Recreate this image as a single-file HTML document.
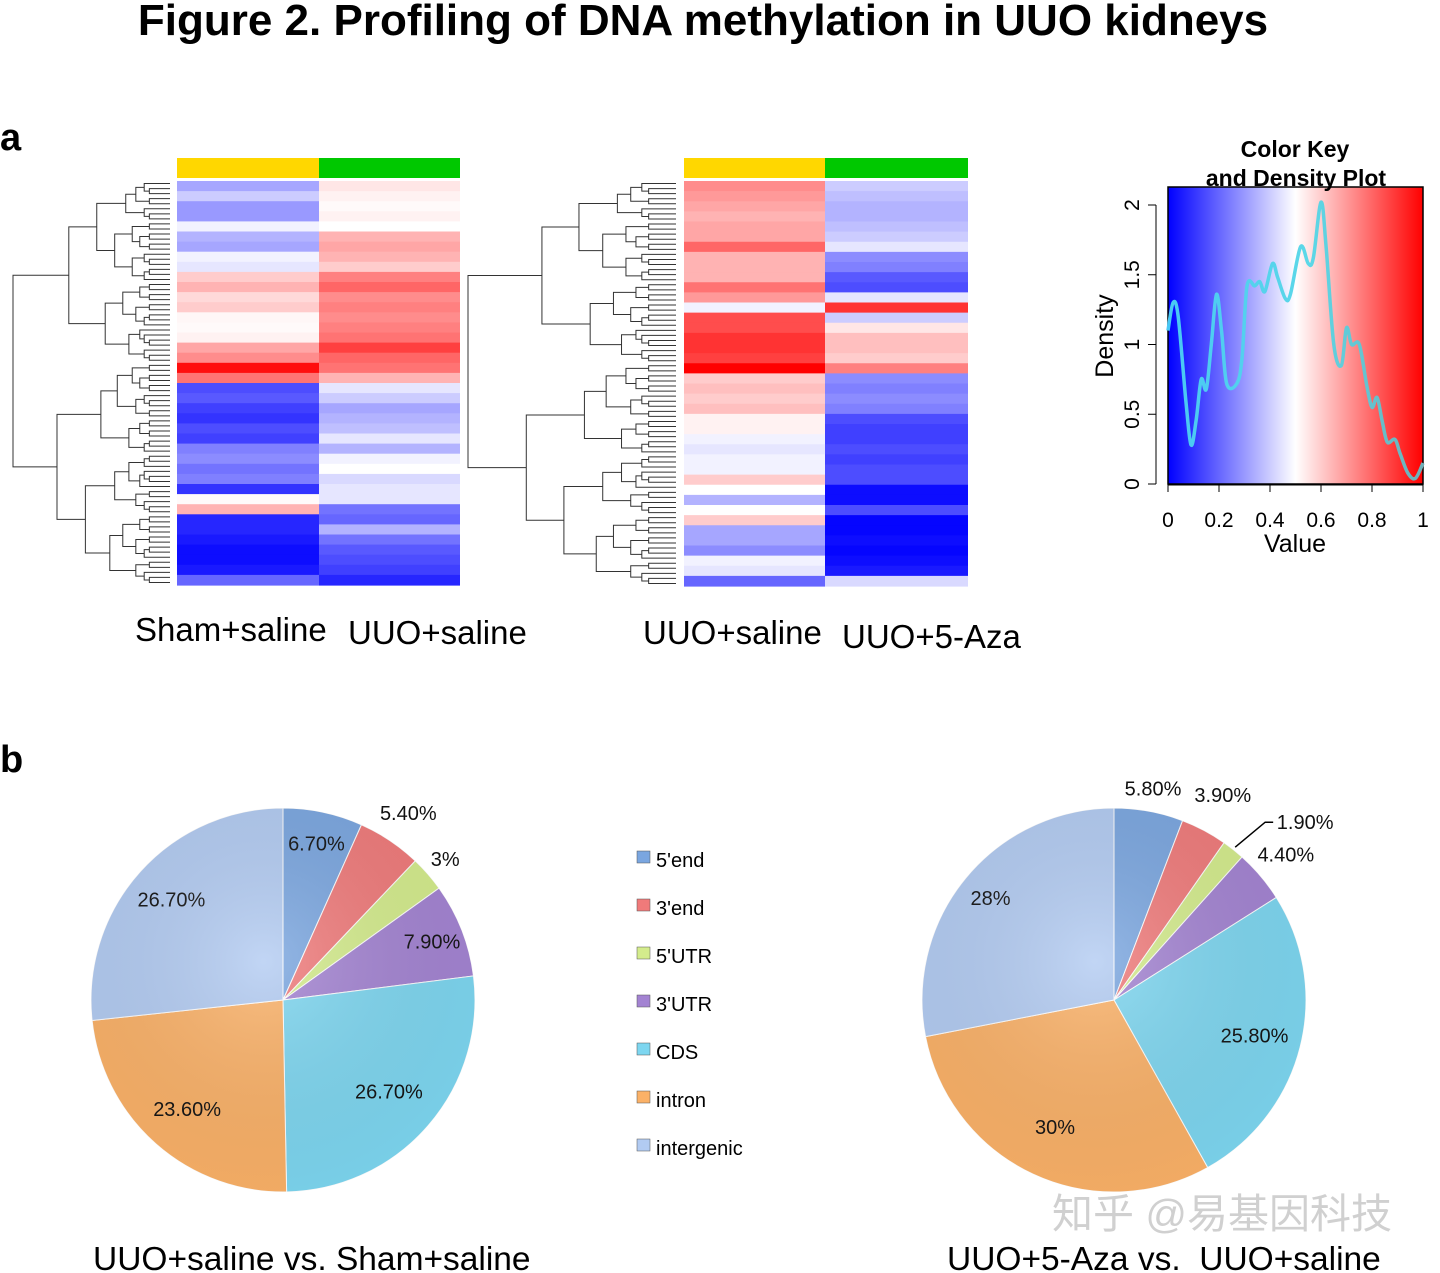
<!DOCTYPE html>
<html><head><meta charset="utf-8">
<style>
html,body{margin:0;padding:0;background:#fff;}
svg{display:block;}
text{font-family:"Liberation Sans","Noto Sans CJK SC",sans-serif;}
</style></head>
<body>
<svg id="fig" width="1440" height="1273" viewBox="0 0 1440 1273" xmlns="http://www.w3.org/2000/svg">
<defs>
  <linearGradient id="keyGrad" x1="0" x2="1" y1="0" y2="0">
    <stop offset="0" stop-color="#0000ff"/><stop offset="0.5" stop-color="#ffffff"/><stop offset="1" stop-color="#ff0000"/>
  </linearGradient>
  <linearGradient id="curveGrad" x1="0" x2="1" y1="0" y2="0">
    <stop offset="0" stop-color="#48c8f5"/><stop offset="0.55" stop-color="#5cd8e8"/><stop offset="1" stop-color="#6fb0b8"/>
  </linearGradient>
  <radialGradient id="shade" cx="0.45" cy="0.4" r="0.65">
    <stop offset="0" stop-color="#fff" stop-opacity="0.2"/><stop offset="1" stop-color="#000" stop-opacity="0.03"/>
  </radialGradient>
</defs>
<text x="703" y="35" text-anchor="middle" font-size="44" font-weight="bold">Figure 2. Profiling of DNA methylation in UUO kidneys</text>
<text x="0" y="150" font-size="38" font-weight="bold">a</text>
<text x="0" y="772" font-size="38" font-weight="bold">b</text>
<g id="hm1"></g>
<g id="hm2"></g>
<g id="dens"></g>
<g id="pie1"></g>
<g id="pie2"></g>
<g id="legend"></g>
<text x="135" y="641" font-size="33">Sham+saline</text>
<text x="348" y="644" font-size="33">UUO+saline</text>
<text x="643" y="644" font-size="33">UUO+saline</text>
<text x="842" y="648" font-size="33">UUO+5-Aza</text>
<text x="93" y="1270" font-size="33.5">UUO+saline vs. Sham+saline</text>
<text x="947" y="1270" font-size="33.5" style="white-space:pre">UUO+5-Aza vs.  UUO+saline</text>
<text x="1052" y="1228" font-size="41" fill="#d0d0d0">知乎 @易基因科技</text>
</svg>
<script>
// ---- heatmap data (value -1 blue .. +1 red) ----
const hm1Sham=[-0.35,-0.2,-0.4,-0.4,-0.05,-0.3,-0.35,-0.05,-0.1,0.2,0.3,0.15,0.2,0.03,0.02,0.05,0.35,0.45,0.95,0.55,-0.7,-0.65,-0.75,-0.8,-0.7,-0.75,-0.5,-0.45,-0.55,-0.5,-0.8,0.02,0.3,-0.85,-0.85,-0.9,-0.95,-0.95,-0.9,-0.6];
const hm1Uuo=[0.1,0.05,0.02,0.05,0.0,0.3,0.35,0.3,0.2,0.5,0.6,0.45,0.5,0.45,0.5,0.55,0.75,0.6,0.55,0.3,-0.1,-0.2,-0.35,-0.3,-0.25,-0.1,-0.3,-0.05,0.0,-0.15,-0.1,-0.1,-0.55,-0.6,-0.3,-0.55,-0.65,-0.7,-0.75,-0.85];
const hm2Uuo=[0.45,0.4,0.35,0.3,0.35,0.35,0.6,0.3,0.3,0.3,0.55,0.4,-0.05,0.7,0.7,0.8,0.8,0.75,1.0,0.2,0.25,0.2,0.25,0.05,0.05,-0.05,-0.1,-0.05,-0.05,0.2,0.0,-0.3,0.0,0.2,-0.35,-0.35,-0.45,-0.05,-0.1,-0.6];
const hm2Aza=[-0.2,-0.25,-0.3,-0.3,-0.25,-0.2,-0.1,-0.45,-0.5,-0.65,-0.7,-0.1,0.8,-0.2,0.1,0.25,0.25,0.2,0.5,-0.45,-0.5,-0.45,-0.5,-0.7,-0.75,-0.75,-0.7,-0.75,-0.7,-0.7,-0.95,-0.95,-0.7,-0.98,-0.98,-0.95,-0.98,-0.95,-0.9,-0.15];
// ---- density data ----
const densX=[0,0.02,0.04,0.07,0.09,0.11,0.13,0.15,0.17,0.19,0.21,0.23,0.27,0.29,0.31,0.34,0.36,0.38,0.41,0.43,0.46,0.48,0.52,0.55,0.57,0.6,0.62,0.65,0.68,0.7,0.72,0.75,0.78,0.8,0.82,0.84,0.86,0.89,0.91,0.94,0.97,1.0];
const densY=[1.1,1.3,1.2,0.6,0.28,0.45,0.75,0.68,1.0,1.36,1.1,0.72,0.72,0.9,1.42,1.42,1.45,1.38,1.58,1.48,1.33,1.36,1.7,1.58,1.62,2.02,1.7,1.0,0.85,1.12,1.0,1.0,0.7,0.55,0.62,0.45,0.3,0.32,0.22,0.08,0.04,0.15];
const densXTicks=[0,0.2,0.4,0.6,0.8,1];
const densYTicks=[0,0.5,1,1.5,2];
// ---- pie data ----
const pieCats=["5'end","3'end","5'UTR","3'UTR","CDS","intron","intergenic"];
const pieColors=["#7aa6e0","#f07a7a","#d4ec8c","#a383d2","#7dd6f0","#fbb167","#b2cbf2"];
const pie1Vals=[6.7,5.4,3,7.9,26.7,23.6,26.7];
const pie1Labels=["6.70%","5.40%","3%","7.90%","26.70%","23.60%","26.70%"];
const pie2Vals=[5.8,3.9,1.9,4.4,25.8,30,28];
const pie2Labels=["5.80%","3.90%","1.90%","4.40%","25.80%","30%","28%"];

const NS="http://www.w3.org/2000/svg";
function mk(tag,attrs,parent){const e=document.createElementNS(NS,tag);for(const k in attrs)e.setAttribute(k,attrs[k]);parent.appendChild(e);return e;}
function col(v){if(v<0){const c=Math.round(255*(1+v));return `rgb(${c},${c},255)`;}const c=Math.round(255*(1-v));return `rgb(255,${c},${c})`;}

function dendro(g,x0,x1,y0,y1,n){
  const leafY=i=>y0+(i+0.5)*(y1-y0)/n;
  const total=n;
  function build(lo,hi,depth){
    if(hi-lo<=1)return {y:leafY(lo),x:x1};
    const ratios=[0.45,0.55,0.4,0.6,0.5,0.35,0.65];
    let m=lo+Math.max(1,Math.round((hi-lo)*ratios[(lo+depth)%ratios.length]));
    if(m>=hi)m=hi-1;
    const a=build(lo,m,depth+1),b=build(m,hi,depth+1);
    const frac=Math.pow((hi-lo)/total,0.55);
    const x=x1-(x1-x0)*frac;
    const p=mk('path',{d:`M${a.x},${a.y}H${x}V${b.y}H${b.x}`,fill:'none',stroke:'#333','stroke-width':1},g);
    
    
    return {x:x,y:(a.y+b.y)/2};
  }
  build(0,n,0);
}

function heatmap(gid,a,b,xA,xB,xEnd,yTop,yBot,dx0,dx1){
  const g=document.getElementById(gid);
  const n=a.length,h=(yBot-yTop)/n;
  const r1=mk('rect',{x:xA,y:yTop-23,width:xB-xA,height:20,fill:'#ffd700'},g);
  
  
  const r2=mk('rect',{x:xB,y:yTop-23,width:xEnd-xB,height:20,fill:'#00c800'},g);
  
  
  for(let i=0;i<n;i++){
    const c1=mk('rect',{x:xA,y:yTop+i*h,width:xB-xA,height:h+0.6,fill:col(a[i])},g);
    
    
    const c2=mk('rect',{x:xB,y:yTop+i*h,width:xEnd-xB,height:h+0.6,fill:col(b[i])},g);
    
    
  }
  dendro(g,dx0,dx1,yTop,yBot,n*2);
}
heatmap('hm1',hm1Sham,hm1Uuo,177,319,460,181,585,13,170);
heatmap('hm2',hm2Uuo,hm2Aza,684,825,968,181,586,468,676);

(function(){
  const g=document.getElementById('dens');
  const L=1168,R=1423,T=187,B=484;
  const sx=v=>L+v*(R-L), sy=v=>B-v*139.5;
  const k=mk('rect',{x:L,y:T,width:R-L,height:B-T,fill:'url(#keyGrad)',stroke:'#000','stroke-width':1.5},g);
  
  
  const P=densX.map((x,i)=>[sx(x),sy(densY[i])]);
  let d='M'+P[0][0]+','+P[0][1];
  for(let i=0;i<P.length-1;i++){
    const p0=P[Math.max(0,i-1)],p1=P[i],p2=P[i+1],p3=P[Math.min(P.length-1,i+2)];
    const c1x=p1[0]+(p2[0]-p0[0])/6,c1y=p1[1]+(p2[1]-p0[1])/6;
    const c2x=p2[0]-(p3[0]-p1[0])/6,c2y=p2[1]-(p3[1]-p1[1])/6;
    d+=`C${c1x.toFixed(1)},${c1y.toFixed(1)} ${c2x.toFixed(1)},${c2y.toFixed(1)} ${p2[0].toFixed(1)},${p2[1].toFixed(1)}`;
  }
  const p=mk('path',{d:d,fill:'none',stroke:'url(#curveGrad)','stroke-width':3.5,'stroke-linejoin':'round'},g);
  
  
  mk('line',{x1:L,x2:R,y1:B+1,y2:B+1,stroke:'#000'},g);
  densXTicks.forEach(t=>{
    mk('line',{x1:sx(t),x2:sx(t),y1:B,y2:B+8,stroke:'#000'},g);
    const tx=mk('text',{x:sx(t),y:B+43,'text-anchor':'middle','font-size':21},g);tx.textContent=String(t);
    
    
  });
  mk('line',{x1:L-12,x2:L-12,y1:sy(0),y2:sy(2),stroke:'#000'},g);
  densYTicks.forEach(t=>{
    mk('line',{x1:L-20,x2:L-12,y1:sy(t),y2:sy(t),stroke:'#000'},g);
    const tx=mk('text',{x:0,y:0,'text-anchor':'middle','font-size':21,transform:`translate(${L-29},${sy(t)}) rotate(-90)`},g);tx.textContent=String(t);
    
    
  });
  const yt=mk('text',{x:0,y:0,'text-anchor':'middle','font-size':25,transform:`translate(1113,336) rotate(-90)`},g);yt.textContent='Density';
  
  
  const xt=mk('text',{x:1295,y:552,'text-anchor':'middle','font-size':25},g);xt.textContent='Value';
  
  
  const t1=mk('text',{x:1295,y:157,'text-anchor':'middle','font-size':23,'font-weight':'bold'},g);t1.textContent='Color Key';
  
  
  const t2=mk('text',{x:1296,y:186,'text-anchor':'middle','font-size':23,'font-weight':'bold'},g);t2.textContent='and Density Plot';
  
  
})();

function pie(gid,vals,labels,cx,cy,r,labelPos){
  const g=document.getElementById(gid);
  const tot=vals.reduce((a,b)=>a+b,0);
  let a0=0;
  vals.forEach((v,i)=>{
    const a1=a0+v/tot*2*Math.PI;
    const x0=cx+r*Math.sin(a0),y0=cy-r*Math.cos(a0),x1=cx+r*Math.sin(a1),y1=cy-r*Math.cos(a1);
    const large=(a1-a0)>Math.PI?1:0;
    const p=mk('path',{d:`M${cx},${cy}L${x0},${y0}A${r},${r} 0 ${large} 1 ${x1},${y1}Z`,fill:pieColors[i],stroke:'#fff','stroke-width':1},g);
    
    
    const mid=(a0+a1)/2;
    const lr=labelPos[i];
    const t=mk('text',{x:cx+lr*Math.sin(mid),y:cy-lr*Math.cos(mid)+7,'text-anchor':'middle','font-size':20,fill:'#111'},g);
    t.textContent=labels[i];
    
    
    a0=a1;
  });
  const s=mk('circle',{cx:cx,cy:cy,r:r,fill:'url(#shade)'},g);
  
  
}
pie('pie1',pie1Vals,pie1Labels,283,1000,192,[160,225,215,160,140,145,150]);
pie('pie2',pie2Vals,pie2Labels,1114,1000,192,[215,232,0,225,145,140,160]);
(function(){
  const g=document.getElementById('pie2');
  const tot=pie2Vals.reduce((a,b)=>a+b,0);
  const mid=(pie2Vals[0]+pie2Vals[1]+pie2Vals[2]/2)/tot*2*Math.PI;
  const r=192,cx=1114,cy=1000;
  const x=cx+(r+3)*Math.sin(mid),y=cy-(r+3)*Math.cos(mid);
  const l=mk('path',{d:`M${x},${y}L${x+30},${y-25}H${x+38}`,fill:'none',stroke:'#000','stroke-width':1.5},g);
  
  
  const t=g.querySelectorAll('text')[2];
  t.setAttribute('x',x+70);t.setAttribute('y',y-18);
})();
(function(){
  const g=document.getElementById('legend');
  pieCats.forEach((c,i)=>{
    const y=860+i*48;
    const r=mk('rect',{x:637,y:y-9,width:13,height:12,fill:pieColors[i],stroke:'#555','stroke-width':0.5},g);
    
    
    const t=mk('text',{x:656,y:y+7,'font-size':20},g);t.textContent=c;
    
    
  });
})();
</script>
</body></html>
